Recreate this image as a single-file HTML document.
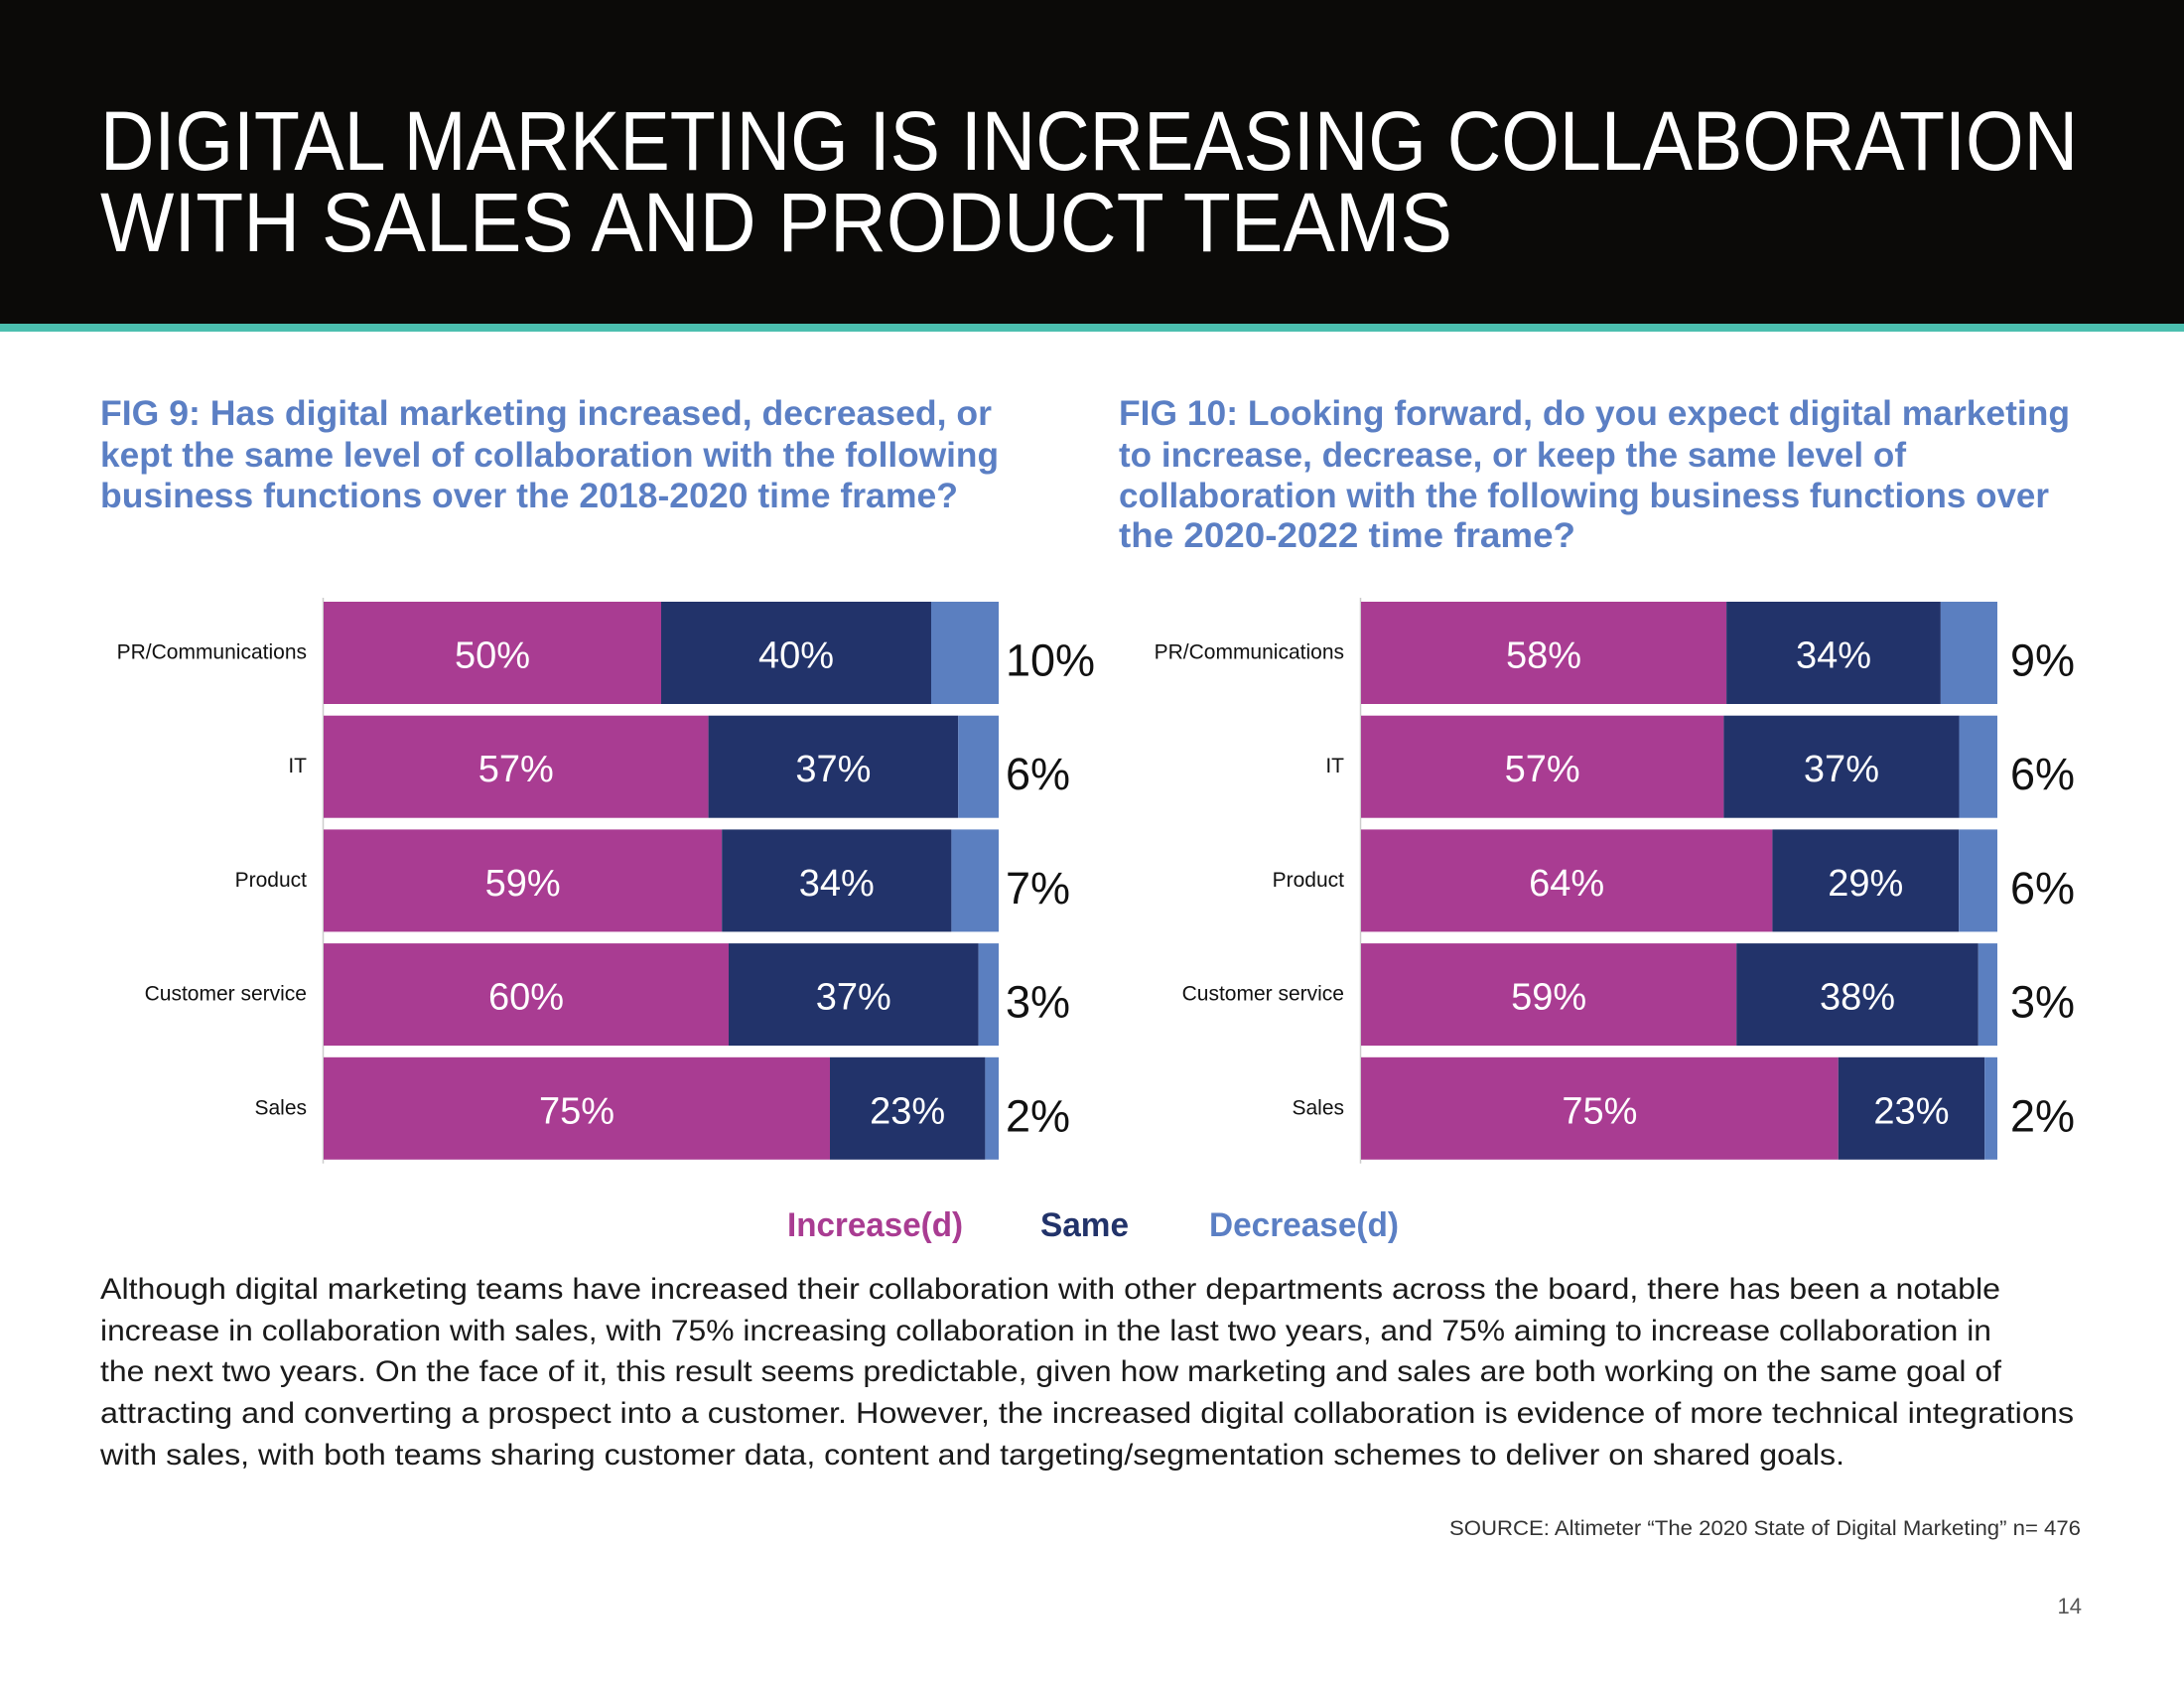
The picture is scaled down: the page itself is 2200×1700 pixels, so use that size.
<!DOCTYPE html>
<html><head><meta charset="utf-8"><style>
html,body{margin:0;padding:0;background:#fff}
svg{display:block}
text{font-family:"Liberation Sans",sans-serif}
</style></head><body>
<svg id="page" width="2200" height="1700" viewBox="0 0 2200 1700" xmlns="http://www.w3.org/2000/svg">
<rect x="0" y="0" width="2200" height="326" fill="#0b0a08"/>
<rect x="0" y="326" width="2200" height="8" fill="#4bbfaf"/>
<g fill="#fff" font-size="84">
<text x="101" y="171" textLength="1992" lengthAdjust="spacingAndGlyphs">DIGITAL MARKETING IS INCREASING COLLABORATION</text>
<text x="101" y="253" textLength="1362" lengthAdjust="spacingAndGlyphs">WITH SALES AND PRODUCT TEAMS</text>
</g>
<g fill="#5b7fc4" font-size="35" font-weight="bold">
<text x="101" y="428" textLength="898" lengthAdjust="spacingAndGlyphs">FIG 9: Has digital marketing  increased, decreased, or</text>
<text x="101" y="470" textLength="905" lengthAdjust="spacingAndGlyphs">kept the same level of collaboration with the following</text>
<text x="101" y="511" textLength="864" lengthAdjust="spacingAndGlyphs">business functions over the 2018-2020 time frame?</text>
</g>
<g fill="#5b7fc4" font-size="35" font-weight="bold">
<text x="1127" y="428" textLength="958" lengthAdjust="spacingAndGlyphs">FIG 10: Looking forward, do you expect  digital marketing</text>
<text x="1127" y="470" textLength="793" lengthAdjust="spacingAndGlyphs">to increase, decrease, or keep the same level of</text>
<text x="1127" y="511" textLength="937" lengthAdjust="spacingAndGlyphs">collaboration with the following business functions over</text>
<text x="1127" y="551" textLength="460" lengthAdjust="spacingAndGlyphs">the 2020-2022 time frame?</text>
</g>
<g id="fig9"></g>
<g id="fig10"></g>
<g font-size="34" font-weight="bold">
<text x="793" y="1245" fill="#a93c92" textLength="177" lengthAdjust="spacingAndGlyphs">Increase(d)</text>
<text x="1048" y="1245" fill="#22336a" textLength="89" lengthAdjust="spacingAndGlyphs">Same</text>
<text x="1218" y="1245" fill="#5b7fc4" textLength="191" lengthAdjust="spacingAndGlyphs">Decrease(d)</text>
</g>
<g fill="#1a1a1a" font-size="30">
<text x="101" y="1308" textLength="1914" lengthAdjust="spacingAndGlyphs">Although digital marketing teams have increased their collaboration with other departments across the board, there has been a notable</text>
<text x="101" y="1350" textLength="1905" lengthAdjust="spacingAndGlyphs">increase in collaboration with sales, with 75% increasing collaboration in the last two years, and 75% aiming to increase collaboration in</text>
<text x="101" y="1391" textLength="1915" lengthAdjust="spacingAndGlyphs">the next two years. On the face of it, this result seems predictable, given how marketing and sales are both working on the same goal of</text>
<text x="101" y="1433" textLength="1988" lengthAdjust="spacingAndGlyphs">attracting and converting a prospect into a customer. However, the increased digital collaboration is evidence of more technical integrations</text>
<text x="101" y="1475" textLength="1757" lengthAdjust="spacingAndGlyphs">with sales, with both teams sharing customer data, content and targeting/segmentation schemes to deliver on shared goals.</text>
</g>
<text x="2096" y="1546" text-anchor="end" font-size="21" fill="#333" textLength="636" lengthAdjust="spacingAndGlyphs">SOURCE: Altimeter “The 2020 State of Digital Marketing” n= 476</text>
<text x="2097" y="1625" text-anchor="end" font-size="22" fill="#555">14</text>
</svg>
<script>
const categories = ["PR/Communications","IT","Product","Customer service","Sales"];
const fig9Increase = [50,57,59,60,75];
const fig9Same = [40,37,34,37,23];
const fig9Decrease = [10,6,7,3,2];
const fig10Increase = [58,57,64,59,75];
const fig10Same = [34,37,29,38,23];
const fig10Decrease = [9,6,6,3,2];

const NS = "http://www.w3.org/2000/svg";
function mk(tag, attrs, parent){ const e=document.createElementNS(NS,tag); for(const k in attrs) e.setAttribute(k,attrs[k]); parent.appendChild(e); return e; }

function drawChart(g, x0, width, labelRight, outX, inc, same, dec, prefix){
  const top=606, pitch=114.7, h=103;
  const yPos = i => top + i*pitch;
  const axis = mk("line",{x1:x0-0.5,x2:x0-0.5,y1:top-4,y2:top+4*pitch+h+4,stroke:"#ccc","stroke-width":1.5},g);
  
  
  const colors=["#a93c92","#22336a","#5b7fc0"];
  const segNames=["increase","same","decrease"];
  categories.forEach((cat,i)=>{
    const vals=[inc[i],same[i],dec[i]];
    const total=vals[0]+vals[1]+vals[2];
    const xs = v => v/total*width;
    const y=yPos(i);
    const lab=mk("text",{x:labelRight,y:y+h/2+6,"text-anchor":"end","font-size":21,fill:"#111"},g);
    lab.textContent=cat;
    
    
    let cx=x0;
    vals.forEach((v,j)=>{
      const w=xs(v);
      const r=mk("rect",{x:cx,y:y,width:w,height:h,fill:colors[j]},g);
      
      
      if(j<2){
        const t=mk("text",{x:cx+w/2,y:y+h/2+15,"text-anchor":"middle","font-size":38,fill:"#fff"},g);
        t.textContent=v+"%";
        
        
      }
      cx+=w;
    });
    const o=mk("text",{x:outX,y:y+h/2+23,"font-size":45,fill:"#111"},g);
    o.textContent=dec[i]+"%";
    
    
  });
}
drawChart(document.getElementById("fig9"),326,680,309,1013,fig9Increase,fig9Same,fig9Decrease,"fig9");
drawChart(document.getElementById("fig10"),1371,641,1354,2025,fig10Increase,fig10Same,fig10Decrease,"fig10");
</script>
</body></html>
